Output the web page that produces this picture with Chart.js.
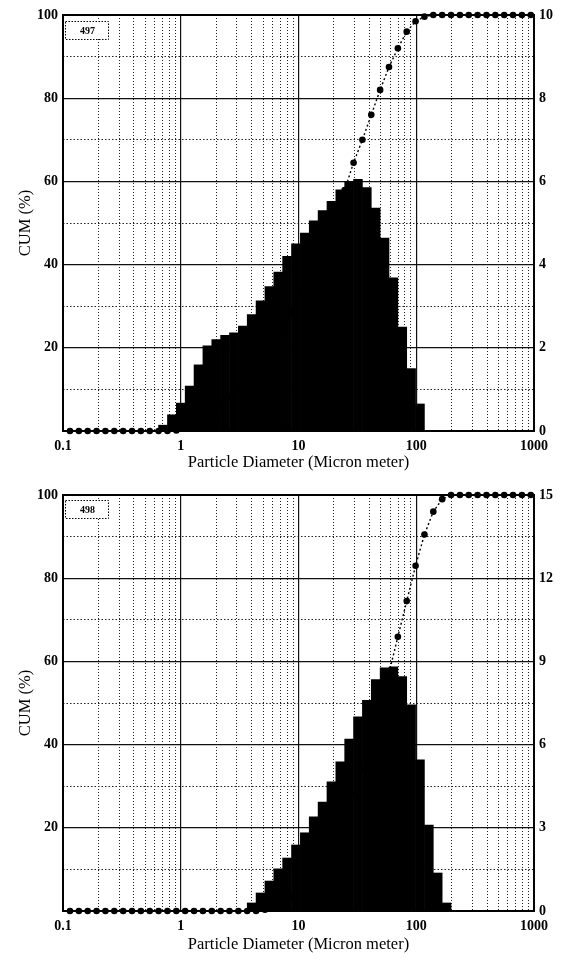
<!DOCTYPE html>
<html>
<head>
<meta charset="utf-8">
<script src="https://cdn.jsdelivr.net/npm/chart.js@4.4.1/dist/chart.umd.min.js"></script>
<style>
  html, body { margin: 0; padding: 0; background: #fff; }
  .wrap { position: relative; width: 562px; }
  #wrapTop { height: 481px; }
  #wrapBottom { height: 482px; }
</style>
</head>
<body>
<div class="wrap" id="wrapTop"><canvas id="chartTop"></canvas></div>
<div class="wrap" id="wrapBottom"><canvas id="chartBottom"></canvas></div>
<script>
// class centres in micron (same size classes for both samples)
const diameters = [0.707, 0.841, 1, 1.189, 1.414, 1.682, 2, 2.378, 2.828, 3.364, 4, 4.757, 5.657, 6.727, 8, 9.514, 11.31, 13.45, 16, 19.03, 22.63, 26.91, 32, 38.05, 45.25, 53.82, 64, 76.11, 90.51, 107.6, 128, 152.2, 181.0];

// frequency (%) per class
const freq497 = [0.14, 0.39, 0.67, 1.08, 1.59, 2.05, 2.2, 2.3, 2.36, 2.52, 2.8, 3.13, 3.47, 3.82, 4.2, 4.5, 4.76, 5.05, 5.3, 5.52, 5.8, 6.0, 6.05, 5.85, 5.36, 4.64, 3.68, 2.5, 1.5, 0.65, 0, 0, 0];
const freq498 = [0, 0, 0, 0, 0, 0, 0, 0, 0, 0, 0.29, 0.65, 1.08, 1.52, 1.91, 2.38, 2.82, 3.4, 3.93, 4.66, 5.38, 6.2, 7.0, 7.6, 8.34, 8.77, 8.8, 8.45, 7.43, 5.45, 3.1, 1.37, 0.29];

// diameters where the cumulative points sit
const cumDiameters = [0.1146, 0.1363, 0.1621, 0.1928, 0.2293, 0.2726, 0.3242, 0.3856, 0.4585, 0.5453, 0.6484, 0.7711, 0.917, 1.0905, 1.2968, 1.5422, 1.834, 2.181, 2.5937, 3.0844, 3.668, 4.362, 5.1874, 6.1688, 7.336, 8.7241, 10.375, 12.338, 14.672, 17.448, 20.749, 24.675, 29.344, 34.896, 41.499, 49.351, 58.688, 69.793, 82.999, 98.7, 117.38, 139.59, 166.0, 197.4, 234.75, 279.17, 332.0, 394.81, 469.51, 558.34, 663.98, 789.61, 939.01];

// cumulative (%)
const cum497 = [0, 0, 0, 0, 0, 0, 0, 0, 0, 0, 0, 0, 0.14, 0.53, 1.2, 2.28, 3.87, 5.92, 8.12, 10.4, 12.8, 15.3, 18.1, 21.2, 24.7, 28.5, 32.7, 37.2, 42.0, 47.0, 52.3, 57.9, 64.5, 70, 76, 82, 87.5, 92, 96, 98.5, 99.6, 100, 100, 100, 100, 100, 100, 100, 100, 100, 100, 100, 100];
const cum498 = [0, 0, 0, 0, 0, 0, 0, 0, 0, 0, 0, 0, 0, 0, 0, 0, 0, 0, 0, 0, 0, 0, 0.29, 0.94, 2.0, 3.5, 5.5, 7.8, 10.7, 14.1, 18.0, 22.6, 28.0, 34.2, 41.2, 48.8, 57.2, 65.9, 74.5, 83, 90.5, 96, 99, 100, 100, 100, 100, 100, 100, 100, 100, 100, 100];

// axis ticks
const decadeTicks = [0.1, 1, 10, 100, 1000];
const minorFactors = [2, 3, 4, 5, 6, 7, 8, 9];
const cumMajorTicks = [0, 20, 40, 60, 80, 100];
const cumMinorTicks = [10, 30, 50, 70, 90];
const freqTicks497 = [0, 2, 4, 6, 8, 10];
const freqTicks498 = [0, 3, 6, 9, 12, 15];

const serif = "'Liberation Serif', 'Times New Roman', serif";

const minorDiamTicks = [];
decadeTicks.slice(0, 4).forEach(d => {
    minorFactors.forEach(f => minorDiamTicks.push(+(d * f).toPrecision(3)));
});

// frame around the plot + sample tag box
const framePlugin = {
    id: 'frame',
    afterDraw(chart, args, opts) {
        const ctx = chart.ctx;
        const a = chart.chartArea;
        ctx.save();
        ctx.strokeStyle = '#000';
        ctx.lineWidth = 2;
        ctx.strokeRect(a.left, a.top, a.right - a.left, a.bottom - a.top);

        // sample tag
        const bx = a.left + 2, by = a.top + opts.boxTop, bw = 43, bh = 18;
        ctx.fillStyle = '#fff';
        ctx.fillRect(bx, by, bw, bh);
        ctx.lineWidth = 1;
        ctx.setLineDash([1.5, 1.5]);
        ctx.strokeRect(bx + 0.5, by + 0.5, bw, bh);
        ctx.setLineDash([]);
        ctx.fillStyle = '#000';
        ctx.font = "bold 10px " + serif;
        ctx.textAlign = 'center';
        ctx.textBaseline = 'middle';
        ctx.fillText(opts.tag, bx + bw / 2 + 1, by + bh / 2 + 1);
        ctx.restore();
    }
};

function makeChart(canvasId, freq, cum, freqTicks, tag, xHeight, padTop, padBottom, boxTop) {
    const ctx = document.getElementById(canvasId).getContext('2d');
    const freqMax = freqTicks[freqTicks.length - 1];
    return new Chart(ctx, {
        type: 'bar',
        data: {
            datasets: [
                {
                    type: 'line',
                    data: cumDiameters.map((d, i) => ({ x: d, y: cum[i] })),
                    xAxisID: 'x',
                    yAxisID: 'y',
                    borderColor: '#000',
                    borderWidth: 1.4,
                    borderDash: [2, 2.5],
                    pointRadius: 3.3,
                    pointBackgroundColor: '#000',
                    pointBorderWidth: 0,
                    tension: 0,
                    clip: false,
                    order: 1
                },
                {
                    type: 'bar',
                    data: diameters.map((d, i) => ({ x: d, y: freq[i] })),
                    xAxisID: 'x',
                    yAxisID: 'yFreq',
                    backgroundColor: '#000',
                    borderWidth: 0,
                    categoryPercentage: 1,
                    barPercentage: 1,
                    order: 2
                }
            ]
        },
        options: {
            responsive: true,
            maintainAspectRatio: false,
            animation: false,
            layout: { padding: { top: padTop, left: 0, right: 0, bottom: padBottom } },
            plugins: {
                legend: { display: false },
                tooltip: { enabled: false },
                frame: { tag: tag, boxTop: boxTop }
            },
            scales: {
                x: {
                    type: 'logarithmic',
                    position: 'bottom',
                    offset: false,
                    min: 0.1,
                    max: 1000,
                    afterBuildTicks: axis => { axis.ticks = decadeTicks.map(v => ({ value: v })); },
                    afterFit: axis => { axis.height = xHeight; },
                    ticks: {
                        autoSkip: false,
                        maxRotation: 0,
                        padding: 7,
                        color: '#000',
                        font: { family: serif, size: 14, weight: 'bold' },
                        callback: v => String(v)
                    },
                    grid: { offset: false, color: '#111', lineWidth: 1.2, drawTicks: false },
                    border: { display: false },
                    title: {
                        display: true,
                        text: 'Particle Diameter (Micron meter)',
                        color: '#000',
                        font: { family: serif, size: 16.5 },
                        padding: { top: 0, bottom: 0 }
                    }
                },
                xMinor: {
                    type: 'logarithmic',
                    position: 'bottom',
                    offset: false,
                    min: 0.1,
                    max: 1000,
                    afterBuildTicks: axis => { axis.ticks = minorDiamTicks.map(v => ({ value: v })); },
                    afterFit: axis => { axis.height = 0; },
                    ticks: { display: false },
                    grid: { offset: false, color: '#222', lineWidth: 1, drawTicks: false },
                    border: { display: false, dash: [1, 2] }
                },
                y: {
                    position: 'left',
                    min: 0,
                    max: 100,
                    afterBuildTicks: axis => { axis.ticks = cumMajorTicks.map(v => ({ value: v })); },
                    afterFit: axis => { axis.width = 63; },
                    ticks: {
                        padding: 5,
                        color: '#000',
                        font: { family: serif, size: 14, weight: 'bold' },
                        callback: v => (v === 0 ? '' : String(v))
                    },
                    grid: { color: '#111', lineWidth: 1.2, drawTicks: false },
                    border: { display: false },
                    title: {
                        display: true,
                        text: 'CUM (%)',
                        color: '#000',
                        font: { family: serif, size: 16.5 },
                        padding: { top: 16, bottom: 0 }
                    }
                },
                yMinor: {
                    position: 'left',
                    min: 0,
                    max: 100,
                    afterBuildTicks: axis => { axis.ticks = cumMinorTicks.map(v => ({ value: v })); },
                    afterFit: axis => { axis.width = 0; },
                    ticks: { display: false },
                    grid: { color: '#222', lineWidth: 1, drawTicks: false },
                    border: { display: false, dash: [1.5, 2] }
                },
                yFreq: {
                    position: 'right',
                    min: 0,
                    max: freqMax,
                    afterBuildTicks: axis => { axis.ticks = freqTicks.map(v => ({ value: v })); },
                    afterFit: axis => { axis.width = 28; },
                    ticks: {
                        padding: 5,
                        color: '#000',
                        font: { family: serif, size: 14, weight: 'bold' }
                    },
                    grid: { display: false, drawTicks: false },
                    border: { display: false }
                }
            }
        },
        plugins: [framePlugin]
    });
}

makeChart('chartTop', freq497, cum497, freqTicks497, '497', 42, 15, 8, 6);
makeChart('chartBottom', freq498, cum498, freqTicks498, '498', 44, 14, 8, 5);
</script>
</body>
</html>
